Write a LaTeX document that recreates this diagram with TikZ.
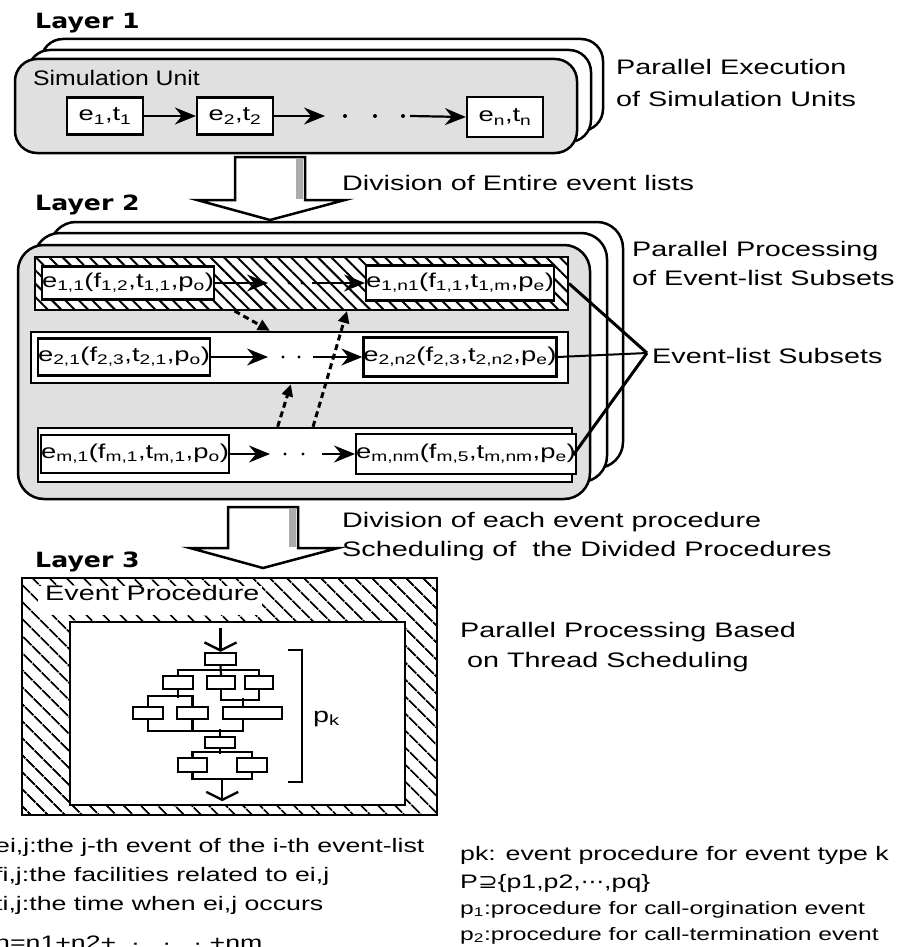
\documentclass[tikz,border=0pt]{standalone}
\usepackage{fontspec}
\setmainfont{Liberation Sans}[FakeStretch=1.37]
\newfontfamily\narrowfont{Liberation Sans}[FakeStretch=1.18]
\newfontfamily\heavyfont{DejaVu Sans}[FakeStretch=1.2]
\newfontfamily\symbfont{DejaVu Sans}[FakeStretch=1.2]
\usetikzlibrary{arrows.meta,patterns.meta,calc}
\begin{document}
\begin{tikzpicture}[x=1pt,y=-1pt,
  card/.style={draw,line width=2.5pt,rounded corners=22pt,fill=white},
  frontcard/.style={card,fill=gray!24},
  layerlbl/.style={anchor=base west,inner sep=0pt,font=\heavyfont\bfseries\fontsize{21}{24}\selectfont},
  lbl/.style={anchor=base west,inner sep=0pt,font=\fontsize{21}{25}\selectfont},
  leg/.style={anchor=base west,inner sep=0pt,font=\fontsize{19.5}{23}\selectfont},
  legs/.style={anchor=base west,inner sep=0pt,font=\fontsize{18}{22}\selectfont},
  ebox/.style={draw,line width=2.2pt,fill=white,inner sep=0pt,font=\fontsize{20}{22}\selectfont},
  band/.style={draw,line width=2.5pt,inner sep=0pt,fill=white},
  hatchband/.style={band,preaction={fill=white},pattern={Lines[angle=-45,distance=9.5pt,line width=2pt]}},
  bigarrow/.style={line width=2.2pt,-{Stealth[length=21pt,width=17pt,inset=7pt]}},
  dasharrow/.style={line width=3pt,dash pattern=on 6pt off 4pt,-{Triangle[length=12pt,width=11pt]}},
  fbox/.style={draw,line width=2.4pt,fill=white,inner sep=0pt},
  fl/.style={line width=2.2pt},
  vee/.style={line width=2.2pt,-{Straight Barb[length=8pt,width=32pt,line width=2.4pt]}},
  downarrow/.style={draw,line width=2.5pt,fill=white,line join=miter},
  dotm/.style={fill=black}
]
\useasboundingbox (0,0) rectangle (899,947);

%% ---------------- Layer 1 ----------------
\node[layerlbl] (L1) at (35,29) {Layer 1};
\draw[card] (41,39) rectangle (603,131);
\draw[card] (28,50) rectangle (591,142);
\draw[frontcard] (15,59) rectangle (577,153);
\node[anchor=base west,inner sep=0pt,font=\narrowfont\fontsize{21}{25}\selectfont] (su) at (33,86) {Simulation Unit};

\node[ebox,minimum width=76pt,minimum height=37pt] (a1) at (105,116) {e\textsubscript{1},t\textsubscript{1}};
\node[ebox,minimum width=76pt,minimum height=37pt] (a2) at (235,116) {e\textsubscript{2},t\textsubscript{2}};
\node[ebox,minimum width=76pt,minimum height=40pt] (an) at (505,117) {e\textsubscript{n},t\textsubscript{n}};
\coordinate (a2end) at (325,116);
\coordinate (anstart) at (410,116);
\draw[bigarrow] (a1.east) -- (a2.west);
\draw[bigarrow] (a2.east) -- (a2end);
\fill[dotm] (345,116) circle (2pt) (375,116) circle (2pt) (403,116) circle (2pt);
\draw[bigarrow] (anstart) -- (an.west);

\node[lbl] (pe1) at (616,75) {Parallel Execution};
\node[lbl] (pe2) at (616,107) {of Simulation Units};

% down arrow 1
\draw[downarrow] (235,157) -- (305,157) -- (305,200) -- (345,200) -- (270,220) -- (197,200) -- (235,200) -- cycle;
\fill[gray!65] (295.5,159) rectangle (302.5,199);
\node[lbl] (div1) at (342,190) {Division of Entire event lists};

%% ---------------- Layer 2 ----------------
\node[layerlbl] (L2) at (35,210) {Layer 2};
\draw[card,rounded corners=26pt] (50,222) rectangle (623,468);
\draw[card,rounded corners=26pt] (34,233) rectangle (607,482);
\draw[frontcard,rounded corners=26pt] (18,245) rectangle (590,499);

\node[hatchband,minimum width=533pt,minimum height=53pt] (band1) at (301.5,283.5) {};
\node[band,minimum width=537pt,minimum height=51pt] (band2) at (299.5,357.5) {};
\node[band,minimum width=534pt,minimum height=54pt] (bandm) at (305,455) {};

\node[ebox,minimum width=170pt,minimum height=33pt] (r1a) at (128,283) {e\textsubscript{1,1}(f\textsubscript{1,2},t\textsubscript{1,1},p\textsubscript{o})};
\node[ebox,minimum width=185pt,minimum height=35pt] (r1b) at (460,283) {e\textsubscript{1,n1}(f\textsubscript{1,1},t\textsubscript{1,m},p\textsubscript{e})};
\node[ebox,minimum width=162pt,minimum height=37pt] (r2a) at (124,357) {e\textsubscript{2,1}(f\textsubscript{2,3},t\textsubscript{2,1},p\textsubscript{o})};
\node[ebox,minimum width=186pt,minimum height=39pt] (r2b) at (460,357) {e\textsubscript{2,n2}(f\textsubscript{2,3},t\textsubscript{2,n2},p\textsubscript{e})};
\node[ebox,minimum width=175pt,minimum height=38pt] (rma) at (135,454) {e\textsubscript{m,1}(f\textsubscript{m,1},t\textsubscript{m,1},p\textsubscript{o})};
\node[ebox,minimum width=197pt,minimum height=40pt] (rmb) at (466,454) {e\textsubscript{m,nm}(f\textsubscript{m,5},t\textsubscript{m,nm},p\textsubscript{e})};

% row arrows
\coordinate (r1e) at (268,283); \coordinate (r1s) at (312,283);
\draw[bigarrow] (r1a.east) -- (r1e);
\fill[dotm] (289,283) circle (1.7pt) (302,283) circle (1.7pt);
\draw[bigarrow] (r1s) -- (r1b.west);
\coordinate (r2e) at (268,357); \coordinate (r2s) at (313,357);
\draw[bigarrow] (r2a.east) -- (r2e);
\fill[dotm] (283,357) circle (1.7pt) (299,357) circle (1.7pt);
\draw[bigarrow] (r2s) -- (r2b.west);
\coordinate (rme) at (270,454); \coordinate (rms) at (322,454);
\draw[bigarrow] (rma.east) -- (rme);
\fill[dotm] (285,454) circle (1.7pt) (303,454) circle (1.7pt);
\draw[bigarrow] (rms) -- (rmb.west);

% dashed dependency arrows
\coordinate (d1s) at ($(band1.south west)!0.375!(band1.south east)$);
\coordinate (d1e) at ($(band2.north west)!0.445!(band2.north east)$);
\coordinate (d2s) at ($(bandm.north west)!0.515!(bandm.north east)$);
\coordinate (d2e) at ($(band1.south west)!0.585!(band1.south east)$);
\coordinate (d3s) at ($(bandm.north west)!0.449!(bandm.north east)$);
\coordinate (d3e) at ($(band2.south west)!0.484!(band2.south east)$);
\draw[dasharrow] (d1s) -- (d1e);
\draw[dasharrow] (d2s) -- (d2e);
\draw[dasharrow] (d3s) -- (d3e);

\node[lbl] (pp1) at (632,256) {Parallel Processing};
\node[lbl] (pp2) at (632,285) {of Event-list Subsets};

\coordinate (els) at (647,353);
\draw[line width=3pt] (band1.east) -- (els);
\draw[line width=2pt] (r2b.east) -- (els);
\draw[line width=3pt] (bandm.east) -- (els);
\node[lbl] (elsl) at (652,363) {Event-list Subsets};

% down arrow 2
\draw[downarrow] (228,507) -- (298,507) -- (298,548) -- (338,548) -- (263,568) -- (190,548) -- (228,548) -- cycle;
\fill[gray!65] (288.5,509) rectangle (295.5,547);
\node[lbl] (div2) at (342,527) {Division of each event procedure};
\node[lbl] (div3) at (342,556) {Scheduling of\ \ the Divided Procedures};

%% ---------------- Layer 3 ----------------
\node[layerlbl] (L3) at (35,567) {Layer 3};
\path[preaction={fill=white},pattern={Lines[angle=-45,distance=13pt,line width=2pt]}] (22,578) rectangle (437,815);
\fill[white] (38,586) rectangle (262,615);
\draw[line width=2.5pt] (22,578) rectangle (437,815);
\draw[line width=2.5pt,fill=white] (70,622) rectangle (405,805);
\node[lbl] (evp) at (45,600) {Event Procedure};

% flowchart
\node[fbox,minimum width=31pt,minimum height=12pt] (fa) at (220.5,659) {};
\node[fbox,minimum width=30pt,minimum height=13pt] (fb) at (178,682.5) {};
\node[fbox,minimum width=28pt,minimum height=13pt] (fc) at (221,682.5) {};
\node[fbox,minimum width=28pt,minimum height=13pt] (fd) at (259,682.5) {};
\node[fbox,minimum width=30pt,minimum height=12pt] (fe) at (148,713) {};
\node[fbox,minimum width=31pt,minimum height=12pt] (ff) at (192.5,713) {};
\node[fbox,minimum width=59pt,minimum height=12pt] (fg) at (252.5,713) {};
\node[fbox,minimum width=30pt,minimum height=11pt] (fh) at (220,742.5) {};
\node[fbox,minimum width=29pt,minimum height=14pt] (fi) at (192.5,765) {};
\node[fbox,minimum width=30pt,minimum height=14pt] (fj) at (252,765) {};

\draw[vee] ($(fa.north)+(0,-24)$) -- (fa.north);
\draw[fl] (fa.south) -- (fc.north);
\draw[fl] (fb.north) -- ++(0,-5) -| (fd.north);
\draw[fl] (fb.south) -- ++(0,8);
\draw[fl] (fe.north) -- ++(0,-10) -| (ff.north);
\draw[fl] (fc.south) -- ++(0,10) -| (fd.south);
\draw[fl] ($(fg.north)+(-9.5,0)$) -- ++(0,-8);
\draw[fl] (fe.south) -- ++(0,11) -| ($(fg.south)+(-9.5,0)$);
\draw[fl] (ff.south) -- ++(0,11);
\draw[fl] (fh.north) -- ++(0,-7);
\draw[fl] (fi.north) -- ++(0,-5) -| (fj.north);
\draw[fl] (fh.south) -- ++(0,5);
\draw[fl] (fi.south) -- ++(0,6) -| (fj.south);
\coordinate (fout) at ($(fi.south)!0.5!(fj.south)+(0,6)$);
\draw[vee] (fout) -- ++(0,22);

% bracket
\draw[line width=2.4pt] (288,650) -- (302,650) -- (302,782) -- (288,782);
\node[anchor=base west,inner sep=0pt,font=\fontsize{21}{24}\selectfont] (pk) at (313,722) {p\textsubscript{k}};

\node[lbl] (pb1) at (460,637) {Parallel Processing Based};
\node[lbl] (pb2) at (467,667) {on Thread Scheduling};

%% ---------------- Legend ----------------
\node[leg] (lg1) at (-5,852) {ei,j:the j-th event of the i-th event-list};
\node[leg] (lg2) at (-5,881) {fi,j:the facilities related to ei,j};
\node[leg] (lg3) at (-5,910) {ti,j:the time when ei,j occurs};
\node[leg] (lg4) at (-5,949) {n=n1+n2+\ \ ·\ \ \ ·\ \ \ ·\ +nm};

\node[leg] (rg1) at (460,860) {pk: event procedure for event type k};
\node[leg] (rg2) at (460,888) {P{\symbfont ⊇}\{p1,p2,{\symbfont ⋯},pq\}};
\node[legs] (rg3) at (460,914) {p\textsubscript{1}:procedure for call-orgination event};
\node[legs] (rg4) at (460,940) {p\textsubscript{2}:procedure for call-termination event};
\end{tikzpicture}
\end{document}
